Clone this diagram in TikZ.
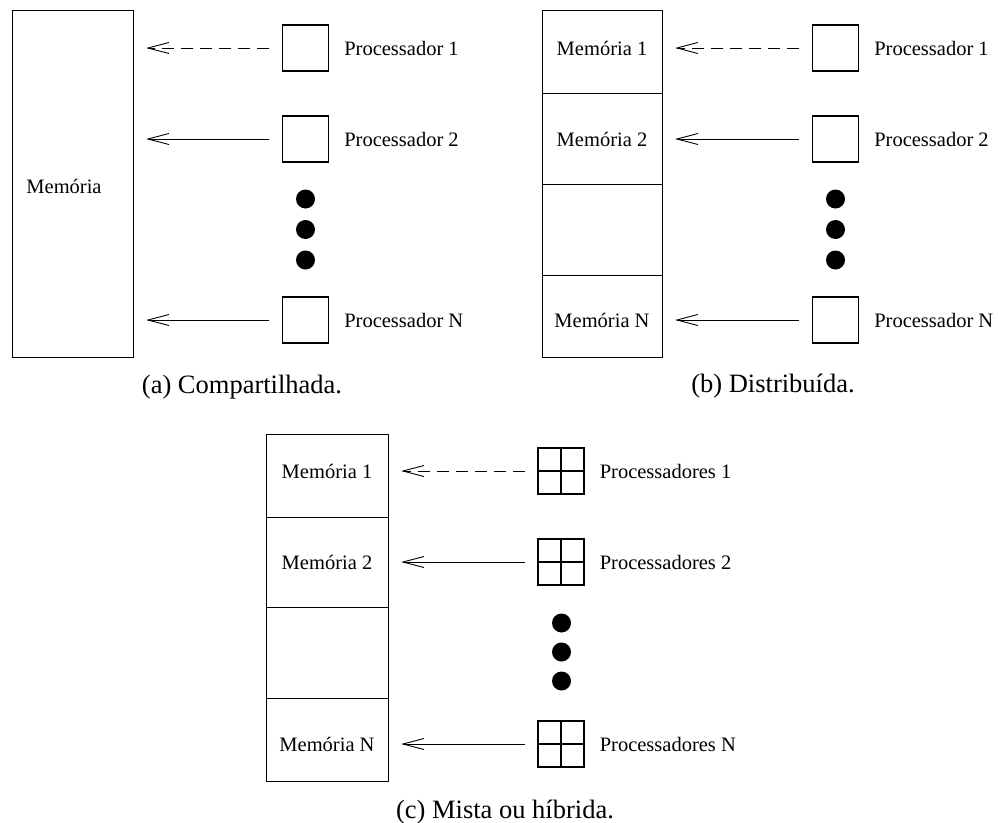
\documentclass[tikz,border=0pt]{standalone}
\usepackage{fontspec}
\setmainfont{Liberation Serif}
\usetikzlibrary{arrows.meta,calc}
\begin{document}
\begin{tikzpicture}[x=1pt,y=-1pt,
  box/.style={draw,line width=1.2pt,inner sep=0pt,anchor=north west},
  proc/.style={draw,line width=1.2pt,inner sep=0pt,minimum size=46pt},
  lbl/.style={inner sep=0pt,font=\fontsize{20.5}{24}\selectfont},
  plbl/.style={lbl,anchor=west},
  captxt/.style={inner sep=0pt,anchor=base,font=\fontsize{26.5}{30}\selectfont},
  bigdot/.style={circle,fill,inner sep=0pt,minimum size=19pt},
  arr/.style={line width=0.9pt,-{Straight Barb[length=21pt,width=11pt,line width=0.9pt]},shorten <=12.5pt,shorten >=12pt},
  dsh/.style={dash pattern=on 12pt off 7pt}]
\useasboundingbox (0,0) rectangle (998,822);

% ---------- (a) ----------
\node[box,minimum width=121pt,minimum height=347pt] (ma) at (12,10) {};
\node[lbl] (mat) at (64,186) {Memória};
\node[proc] (pa1) at (305.5,48) {};
\node[proc] (pa2) at (305.5,139) {};
\node[proc] (pa3) at (305.5,320) {};
\node[plbl] (pa1t) at ($(pa1.east)+(15,0)$) {Processador 1};
\node[plbl] (pa2t) at ($(pa2.east)+(15,0)$) {Processador 2};
\node[plbl] (pa3t) at ($(pa3.east)+(15,0)$) {Processador N};
\node[bigdot] (da1) at (305.5,199) {};
\node[bigdot] (da2) at (305.5,229.5) {};
\node[bigdot] (da3) at (305.5,260) {};
\draw[arr,dsh] (pa1.west) -- (ma.east |- pa1.west);
\draw[arr] (pa2.west) -- (ma.east |- pa2.west);
\draw[arr] (pa3.west) -- (ma.east |- pa3.west);
\node[captxt] (capa) at (242,393) {(a) Compartilhada.};

% ---------- (b) ----------
\node[box,minimum width=120pt,minimum height=83pt] (mb1) at (542,10) {};
\node[box,minimum width=120pt,minimum height=91pt] (mb2) at (542,93) {};
\node[box,minimum width=120pt,minimum height=91pt] (mb3) at (542,184) {};
\node[box,minimum width=120pt,minimum height=82pt] (mb4) at (542,275) {};
\node[lbl] (mb1t) at (602,48) {Memória 1};
\node[lbl] (mb2t) at (602,139) {Memória 2};
\node[lbl] (mb4t) at (602,320) {Memória N};
\node[proc] (pb1) at (835.5,48) {};
\node[proc] (pb2) at (835.5,139) {};
\node[proc] (pb3) at (835.5,320) {};
\node[plbl] (pb1t) at ($(pb1.east)+(15,0)$) {Processador 1};
\node[plbl] (pb2t) at ($(pb2.east)+(15,0)$) {Processador 2};
\node[plbl] (pb3t) at ($(pb3.east)+(15,0)$) {Processador N};
\node[bigdot] (db1) at (835.5,199) {};
\node[bigdot] (db2) at (835.5,229.5) {};
\node[bigdot] (db3) at (835.5,260) {};
\draw[arr,dsh] (pb1.west) -- (mb1.east |- pb1.west);
\draw[arr] (pb2.west) -- (mb2.east |- pb2.west);
\draw[arr] (pb3.west) -- (mb4.east |- pb3.west);
\node[captxt] (capb) at (773,392) {(b) Distribuída.};

% ---------- (c) ----------
\node[box,minimum width=122pt,minimum height=83pt] (mc1) at (266,434) {};
\node[box,minimum width=122pt,minimum height=90pt] (mc2) at (266,517) {};
\node[box,minimum width=122pt,minimum height=91pt] (mc3) at (266,607) {};
\node[box,minimum width=122pt,minimum height=83pt] (mc4) at (266,698) {};
\node[lbl] (mc1t) at (327,471) {Memória 1};
\node[lbl] (mc2t) at (327,562) {Memória 2};
\node[lbl] (mc4t) at (327,744) {Memória N};
\node[proc] (pc1) at (561,471) {};
\node[proc] (pc2) at (561,562) {};
\node[proc] (pc3) at (561,744) {};
\foreach \p in {pc1,pc2,pc3}{
  \draw[line width=1.2pt] (\p.north) -- (\p.south) (\p.west) -- (\p.east);
}
\node[plbl] (pc1t) at ($(pc1.east)+(15,0)$) {Processadores 1};
\node[plbl] (pc2t) at ($(pc2.east)+(15,0)$) {Processadores 2};
\node[plbl] (pc3t) at ($(pc3.east)+(15,0)$) {Processadores N};
\node[bigdot] (dc1) at (561.5,623) {};
\node[bigdot] (dc2) at (561.5,652) {};
\node[bigdot] (dc3) at (561.5,681) {};
\draw[arr,dsh] (pc1.west) -- (mc1.east |- pc1.west);
\draw[arr] (pc2.west) -- (mc2.east |- pc2.west);
\draw[arr] (pc3.west) -- (mc4.east |- pc3.west);
\node[captxt] (capc) at (505,818) {(c) Mista ou híbrida.};
\end{tikzpicture}
\end{document}
